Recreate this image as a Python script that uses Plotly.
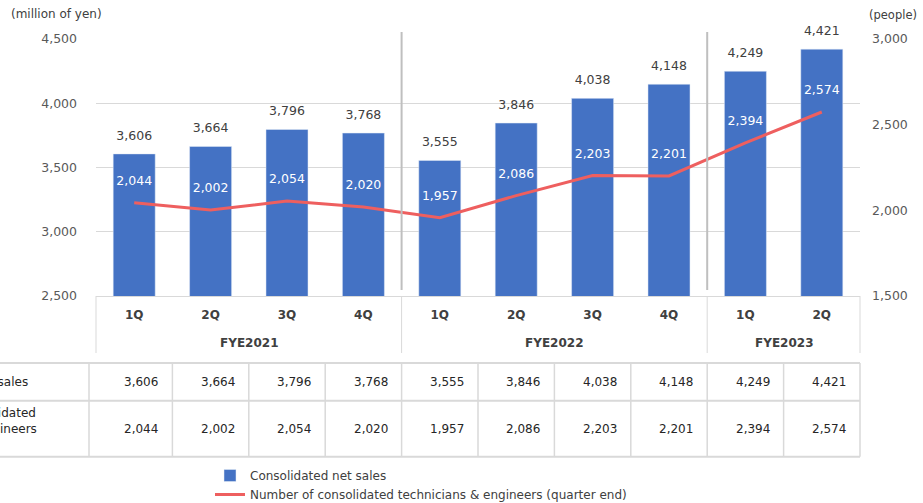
import plotly.graph_objects as go

# ---------------- data ----------------
quarters = ["1Q", "2Q", "3Q", "4Q", "1Q", "2Q", "3Q", "4Q", "1Q", "2Q"]
fiscal_years = ["FYE2021"] * 4 + ["FYE2022"] * 4 + ["FYE2023"] * 2
net_sales = [3606, 3664, 3796, 3768, 3555, 3846, 4038, 4148, 4249, 4421]
engineers = [2044, 2002, 2054, 2020, 1957, 2086, 2203, 2201, 2394, 2574]

sales_name = "Consolidated net sales"
eng_name = "Number of consolidated technicians & engineers (quarter end)"
row_labels = ["Consolidated net sales",
              "Number of consolidated<br>technicians & engineers<br>(quarter end)"]

# ---------------- style ----------------
FONT = "DejaVu Sans"
BLUE = "#4472C4"
RED = "#EE5F5F"
GRID = "#D9D9D9"
TXT = "#404040"

W, H = 923, 503
L, R, T, B = 96, 63, 39, 207
PW, PH = W - L - R, H - T - B

def px_x(p):
    return (p - L) / PW

def px_y(p):
    return (H - B - p) / PH

idx = list(range(len(quarters)))
x_lo, x_hi = -0.5, len(quarters) - 0.5

def xpaper(v):
    return (v - x_lo) / (x_hi - x_lo)

fmt = lambda v: f"{v:,}"

fig = go.Figure()

fig.add_trace(go.Bar(
    x=idx, y=net_sales, name=sales_name, marker_color=BLUE, width=0.55,
    hoverinfo="skip",
))
fig.add_trace(go.Scatter(
    x=idx, y=engineers, name=eng_name, yaxis="y2", mode="lines",
    line=dict(color=RED, width=3), hoverinfo="skip",
))
# labels of sales (above bars)
fig.add_trace(go.Scatter(
    x=idx, y=net_sales, mode="markers+text", text=[fmt(v) for v in net_sales],
    textposition="top center", textfont=dict(family=FONT, size=12.5, color=TXT),
    marker=dict(size=16, color="rgba(0,0,0,0)"), showlegend=False,
    hoverinfo="skip", cliponaxis=False,
))
# labels of engineers (white, above the line points)
fig.add_trace(go.Scatter(
    x=idx, y=engineers, yaxis="y2", mode="markers+text",
    text=[fmt(v) for v in engineers], textposition="top center",
    textfont=dict(family=FONT, size=12.5, color="white"),
    marker=dict(size=22, color="rgba(0,0,0,0)"), showlegend=False,
    hoverinfo="skip", cliponaxis=False,
))

shapes = []
annotations = []

# fiscal-year groups
groups = []
start = 0
for i in range(1, len(fiscal_years) + 1):
    if i == len(fiscal_years) or fiscal_years[i] != fiscal_years[start]:
        groups.append((fiscal_years[start], start, i - 1))
        start = i

# separators inside the plot between years
for name, s, e in groups[1:]:
    shapes.append(dict(type="line", xref="x", yref="paper",
                       x0=s - 0.5, x1=s - 0.5, y0=px_y(290), y1=px_y(32),
                       line=dict(color="#BFBFBF", width=2), layer="above"))

# dividers under the axis + year labels
bounds = [groups[0][1] - 0.5] + [e + 0.5 for _, _, e in groups]
for b in bounds:
    shapes.append(dict(type="line", xref="paper", yref="paper",
                       x0=xpaper(b), x1=xpaper(b), y0=0, y1=px_y(353),
                       line=dict(color=GRID, width=1)))
for name, s, e in groups:
    annotations.append(dict(text=name, xref="x", yref="paper", x=(s + e) / 2,
                            y=px_y(343), showarrow=False, yanchor="middle",
                            font=dict(family=FONT, size=12, color=TXT, weight="bold")))

# ---------------- table ----------------
t_top, t_mid, t_bot = 363, 400.7, 456.7
t_left_px = 89
for yy in (t_top, t_mid, t_bot):
    shapes.append(dict(type="line", xref="paper", yref="paper",
                       x0=px_x(0), x1=xpaper(x_hi), y0=px_y(yy), y1=px_y(yy),
                       line=dict(color=GRID, width=2)))
col_edges = [px_x(t_left_px)] + [xpaper(i + 0.5) for i in idx]
for xe in col_edges:
    shapes.append(dict(type="line", xref="paper", yref="paper",
                       x0=xe, x1=xe, y0=px_y(t_top), y1=px_y(t_bot),
                       line=dict(color=GRID, width=1.5)))

row_y = [(t_top + t_mid) / 2, (t_mid + t_bot) / 2]
for r, vals in enumerate([net_sales, engineers]):
    for i, v in zip(idx, vals):
        annotations.append(dict(text=fmt(v), xref="x", yref="paper", x=i + 0.5,
                                y=px_y(row_y[r]), xanchor="right", yanchor="middle",
                                xshift=-12, showarrow=False,
                                font=dict(family=FONT, size=12, color="#262626")))
    annotations.append(dict(text=row_labels[r], xref="paper", yref="paper",
                            x=px_x(-110), y=px_y(row_y[r]),
                            xanchor="left", yanchor="middle", align="left",
                            showarrow=False,
                            font=dict(family=FONT, size=12, color="#262626")))

# axis titles
annotations.append(dict(text="(million of yen)", xref="paper", yref="paper",
                        x=px_x(9), y=px_y(14), xanchor="left", yanchor="middle",
                        showarrow=False, font=dict(family=FONT, size=12, color=TXT)))
annotations.append(dict(text="(people)", xref="paper", yref="paper",
                        x=px_x(867), y=px_y(15), xanchor="left", yanchor="middle",
                        showarrow=False, font=dict(family=FONT, size=11.5, color=TXT)))

fig.update_layout(
    width=W, height=H,
    margin=dict(l=L, r=R, t=T, b=B, pad=0),
    paper_bgcolor="white", plot_bgcolor="white",
    font=dict(family=FONT, size=12, color=TXT),
    bargap=0.45,
    xaxis=dict(range=[x_lo, x_hi], tickvals=idx, ticktext=quarters,
               tickfont=dict(family=FONT, size=12, color=TXT, weight="bold"),
               showgrid=False, zeroline=False, showline=True, linecolor=GRID,
               linewidth=1, ticks="", ticklabelstandoff=8, automargin=False,
               fixedrange=True),
    yaxis=dict(range=[2500, 4500], dtick=500, tickformat=",",
               tickfont=dict(family=FONT, size=12.5, color="#595959"),
               showgrid=True, gridcolor=GRID, gridwidth=1, zeroline=False,
               showline=False, ticks="", ticklabelstandoff=18, automargin=False),
    yaxis2=dict(range=[1500, 3000], dtick=500, tickformat=",", overlaying="y",
                side="right", showgrid=False, zeroline=False, showline=False,
                tickfont=dict(family=FONT, size=12.5, color="#595959"),
                ticks="", ticklabelstandoff=11, automargin=False),
    legend=dict(xref="paper", yref="container",
                x=px_x(210), y=1 - 461 / H, xanchor="left", yanchor="top",
                orientation="v", font=dict(family=FONT, size=12, color=TXT),
                bgcolor="rgba(0,0,0,0)", tracegroupgap=0),
    shapes=shapes,
    annotations=annotations,
    showlegend=True,
)

fig.write_html("out.html")
